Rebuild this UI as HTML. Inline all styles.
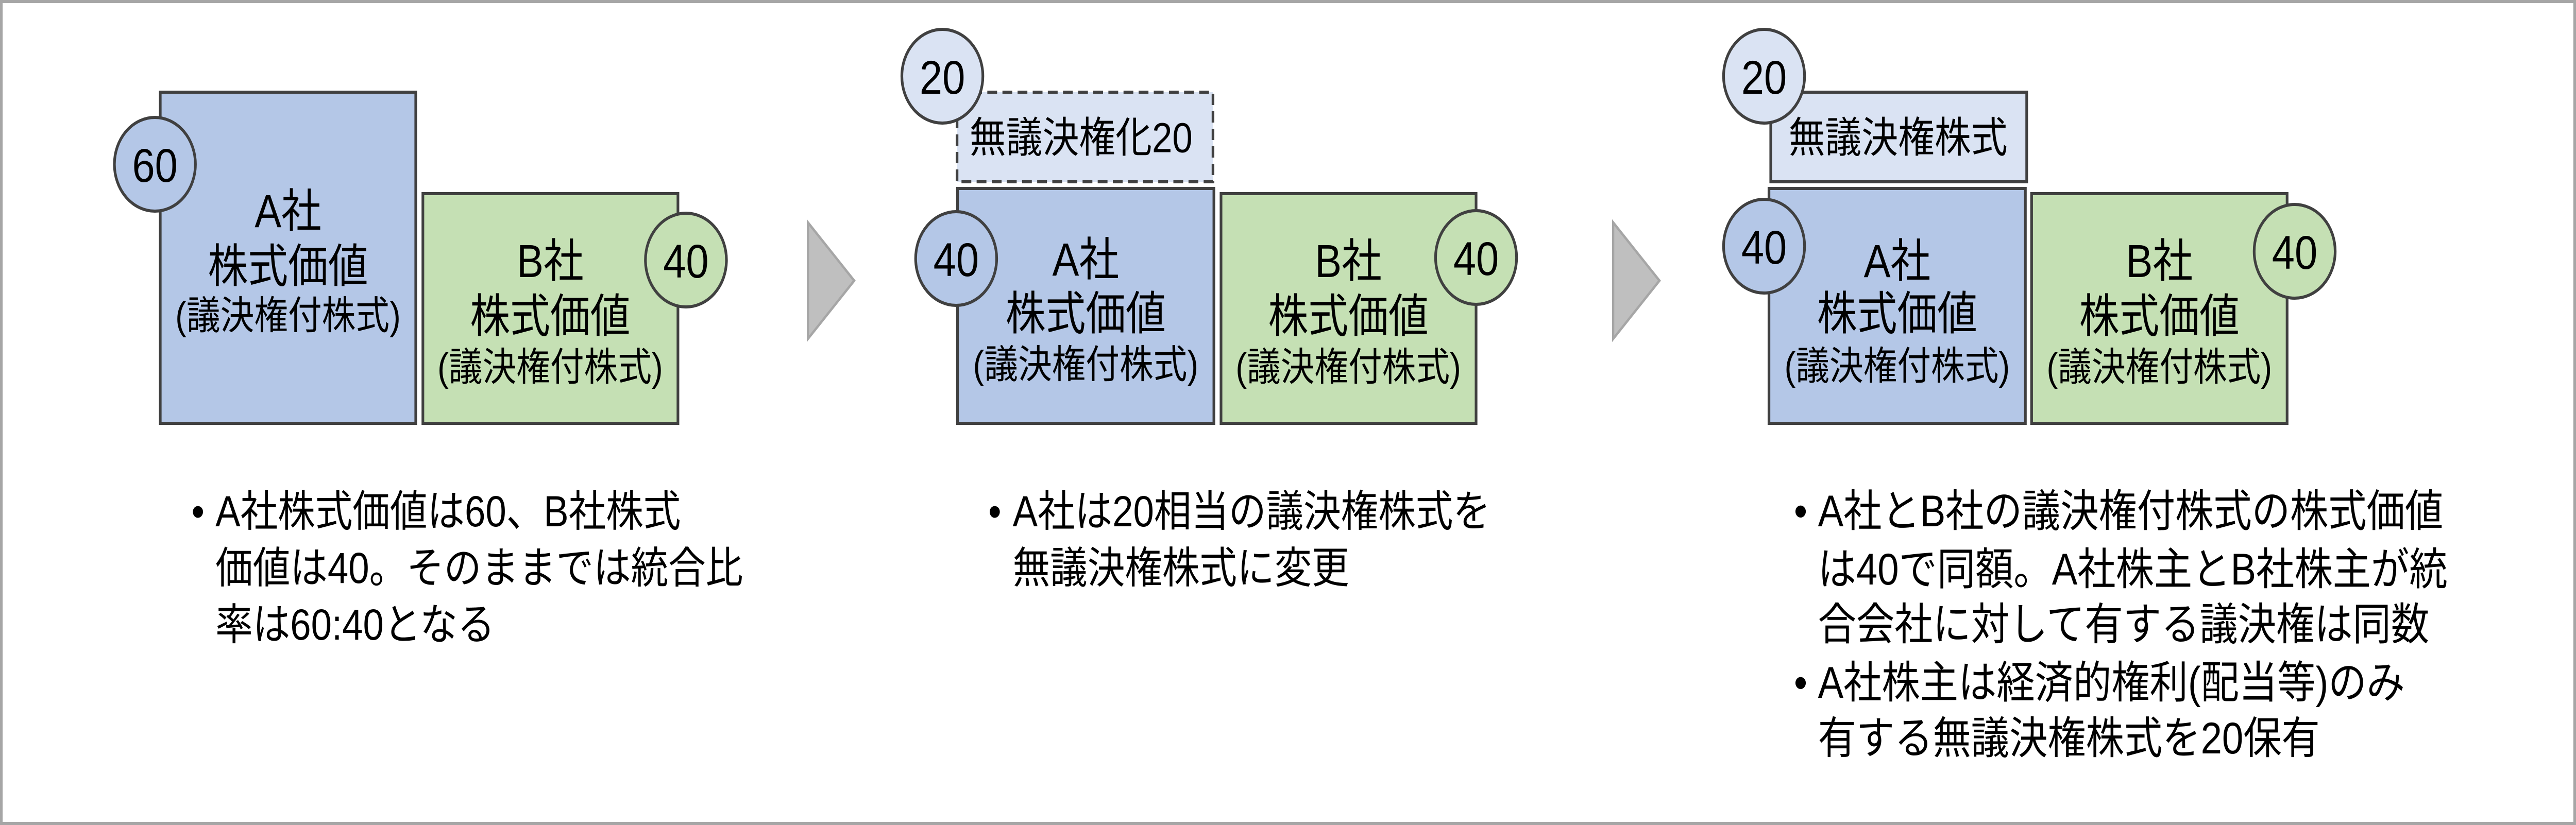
<!DOCTYPE html>
<html><head><meta charset="utf-8"><style>
html,body{margin:0;padding:0;background:#fff;width:100%;height:100%;overflow:hidden;}
svg{display:block;width:100vw;height:100vh;}
text{font-family:"Liberation Sans","Noto Sans CJK JP",sans-serif;fill:#000;}
</style></head><body>
<svg viewBox="0 0 5787 1602" preserveAspectRatio="none" xmlns="http://www.w3.org/2000/svg">
<rect x="3" y="3" width="5781" height="1596" fill="#fff" stroke="#a6a6a6" stroke-width="6"/>

<!-- Panel 1 -->
<rect x="360" y="179" width="574" height="643" fill="#b4c7e7" stroke="#404040" stroke-width="6"/>
<rect x="950" y="376" width="573" height="446" fill="#c5e0b4" stroke="#404040" stroke-width="6"/>
<circle cx="348" cy="319" r="91" fill="#b4c7e7" stroke="#404040" stroke-width="6"/>
<text x="348" y="322" font-size="92" text-anchor="middle" dominant-baseline="central">60</text>
<circle cx="1541" cy="505" r="91" fill="#c5e0b4" stroke="#404040" stroke-width="6"/>
<text x="1541" y="508" font-size="92" text-anchor="middle" dominant-baseline="central">40</text>
<g text-anchor="middle" dominant-baseline="central">
<text x="647" y="410" font-size="90">A社</text>
<text x="647" y="517" font-size="90">株式価値</text>
<text x="647" y="614" font-size="76">(議決権付株式)</text>
<text x="1236" y="507" font-size="90">B社</text>
<text x="1236" y="614" font-size="90">株式価値</text>
<text x="1236" y="714" font-size="76">(議決権付株式)</text>
</g>
<g font-size="84" dominant-baseline="central">
<text x="430" y="993">•</text>
<text x="484" y="993">A社株式価値は60、B社株式</text>
<text x="484" y="1103">価値は40。そのままでは統合比</text>
<text x="484" y="1213">率は60:40となる</text>
</g>

<polygon points="1815,432 1919,545 1815,658" fill="#bfbfbf" stroke="#a6a6a6" stroke-width="5"/>

<!-- Panel 2 -->
<rect x="2150" y="179" width="575" height="174" fill="#dae3f3" stroke="#404040" stroke-width="6" stroke-dasharray="22,12"/>
<circle cx="2117" cy="148" r="91" fill="#dae3f3" stroke="#404040" stroke-width="6"/>
<text x="2117" y="151" font-size="92" text-anchor="middle" dominant-baseline="central">20</text>
<text x="2178" y="268" font-size="82" dominant-baseline="central">無議決権化20</text>
<rect x="2151" y="366" width="576" height="456" fill="#b4c7e7" stroke="#404040" stroke-width="6"/>
<rect x="2743" y="376" width="573" height="446" fill="#c5e0b4" stroke="#404040" stroke-width="6"/>
<circle cx="2148" cy="502" r="91" fill="#b4c7e7" stroke="#404040" stroke-width="6"/>
<text x="2148" y="505" font-size="92" text-anchor="middle" dominant-baseline="central">40</text>
<circle cx="3316" cy="500" r="91" fill="#c5e0b4" stroke="#404040" stroke-width="6"/>
<text x="3316" y="503" font-size="92" text-anchor="middle" dominant-baseline="central">40</text>
<g text-anchor="middle" dominant-baseline="central">
<text x="2439" y="504" font-size="90">A社</text>
<text x="2439" y="609" font-size="90">株式価値</text>
<text x="2439" y="709" font-size="76">(議決権付株式)</text>
<text x="3029" y="507" font-size="90">B社</text>
<text x="3029" y="614" font-size="90">株式価値</text>
<text x="3029" y="714" font-size="76">(議決権付株式)</text>
</g>
<g font-size="84" dominant-baseline="central">
<text x="2220" y="993">•</text>
<text x="2275" y="993">A社は20相当の議決権株式を</text>
<text x="2275" y="1103">無議決権株式に変更</text>
</g>

<polygon points="3624,432 3728,545 3624,658" fill="#bfbfbf" stroke="#a6a6a6" stroke-width="5"/>

<!-- Panel 3 -->
<rect x="3978" y="179" width="575" height="174" fill="#dae3f3" stroke="#404040" stroke-width="6"/>
<circle cx="3963" cy="148" r="91" fill="#dae3f3" stroke="#404040" stroke-width="6"/>
<text x="3963" y="151" font-size="92" text-anchor="middle" dominant-baseline="central">20</text>
<text x="4018" y="268" font-size="82" dominant-baseline="central">無議決権株式</text>
<rect x="3974" y="366" width="576" height="456" fill="#b4c7e7" stroke="#404040" stroke-width="6"/>
<rect x="4564" y="376" width="574" height="446" fill="#c5e0b4" stroke="#404040" stroke-width="6"/>
<circle cx="3963" cy="478" r="91" fill="#b4c7e7" stroke="#404040" stroke-width="6"/>
<text x="3963" y="481" font-size="92" text-anchor="middle" dominant-baseline="central">40</text>
<circle cx="5155" cy="488" r="91" fill="#c5e0b4" stroke="#404040" stroke-width="6"/>
<text x="5155" y="491" font-size="92" text-anchor="middle" dominant-baseline="central">40</text>
<g text-anchor="middle" dominant-baseline="central">
<text x="4262" y="507" font-size="90">A社</text>
<text x="4262" y="609" font-size="90">株式価値</text>
<text x="4262" y="712" font-size="76">(議決権付株式)</text>
<text x="4851" y="507" font-size="90">B社</text>
<text x="4851" y="614" font-size="90">株式価値</text>
<text x="4851" y="714" font-size="76">(議決権付株式)</text>
</g>
<g font-size="86" dominant-baseline="central">
<text x="4030" y="993">•</text>
<text x="4084" y="993">A社とB社の議決権付株式の株式価値</text>
<text x="4084" y="1106">は40で同額。A社株主とB社株主が統</text>
<text x="4084" y="1213">合会社に対して有する議決権は同数</text>
<text x="4030" y="1326">•</text>
<text x="4084" y="1326">A社株主は経済的権利(配当等)のみ</text>
<text x="4084" y="1434">有する無議決権株式を20保有</text>
</g>
</svg>
</body></html>
